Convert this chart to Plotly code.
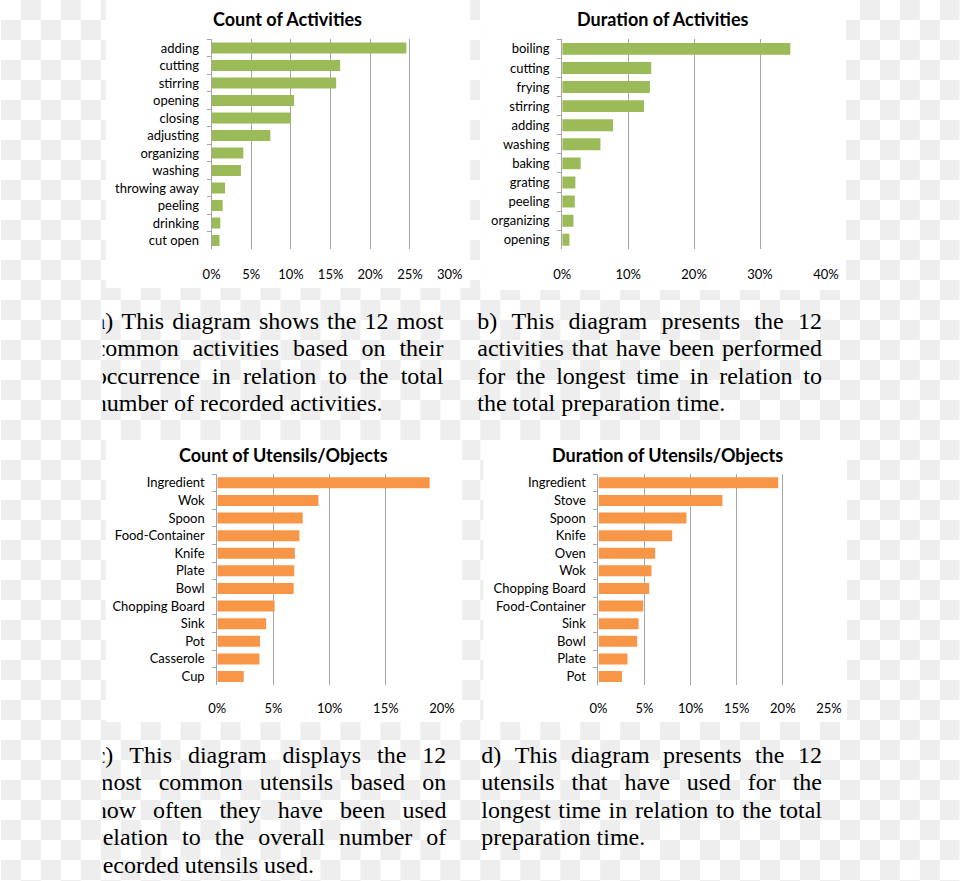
import base64
import plotly.graph_objects as go

W, H = 960, 881

# ---------------- data ----------------
act_count_labels = ["adding", "cutting", "stirring", "opening", "closing", "adjusting",
                    "organizing", "washing", "throwing away", "peeling", "drinking", "cut open"]
act_count_values = [24.55, 16.2, 15.7, 10.4, 10.0, 7.4, 4.0, 3.7, 1.7, 1.4, 1.1, 1.0]

act_dur_labels = ["boiling", "cutting", "frying", "stirring", "adding", "washing",
                  "baking", "grating", "peeling", "organizing", "opening"]
act_dur_values = [34.6, 13.5, 13.3, 12.4, 7.7, 5.8, 2.8, 2.0, 1.9, 1.7, 1.1]

ute_count_labels = ["Ingredient", "Wok", "Spoon", "Food-Container", "Knife", "Plate", "Bowl",
                    "Chopping Board", "Sink", "Pot", "Casserole", "Cup"]
ute_count_values = [18.9, 9.0, 7.6, 7.3, 6.9, 6.85, 6.8, 5.1, 4.35, 3.8, 3.75, 2.35]

ute_dur_labels = ["Ingredient", "Stove", "Spoon", "Knife", "Oven", "Wok", "Chopping Board",
                  "Food-Container", "Sink", "Bowl", "Plate", "Pot"]
ute_dur_values = [19.5, 13.45, 9.55, 8.0, 6.15, 5.75, 5.5, 4.85, 4.35, 4.2, 3.15, 2.55]

titles = ["Count of Activities", "Duration of Activities",
          "Count of Utensils/Objects", "Duration of Utensils/Objects"]

caption_a = ["a) This diagram shows the 12 most",
             "common activities based on their",
             "occurrence in relation to the total",
             "number of recorded activities."]
caption_b = ["b) This diagram presents the 12",
             "activities that have been performed",
             "for the longest time in relation to",
             "the total preparation time."]
caption_c = ["c) This diagram displays the 12",
             "most common utensils based on",
             "how often they have been used",
             "relation to the overall number of",
             "recorded utensils used."]
caption_d = ["d) This diagram presents the 12",
             "utensils that have used for the",
             "longest time in relation to the total",
             "preparation time."]

# ---------------- styles ----------------
GREEN = "#9BBB59"
ORANGE = "#F79646"
GRID = "#A6A6A6"
TICKFONT = dict(family="Lato", size=13, color="#000000")

# horizontal placement calibration (observed rendering offset/scale)
X_OFF = 8.2
X_SPAN = 939.0


def px_x(p):
    return (p - X_OFF) / X_SPAN


def px_y(p):
    return 1 - p / H


fig = go.Figure()

panels = [
    (act_count_labels, act_count_values, GREEN, "", (211, 449.3), (39.3, 249.3), 30, 5, 16),
    (act_dur_labels, act_dur_values, GREEN, "2", (562, 826), (39.3, 249.3), 40, 10, 16),
    (ute_count_labels, ute_count_values, ORANGE, "3", (216.7, 441.7), (474, 685.3), 20, 5, 14),
    (ute_dur_labels, ute_dur_values, ORANGE, "4", (598.3, 829), (474, 685.3), 25, 5, 14),
]

layout = dict(
    width=W, height=H, autosize=False,
    margin=dict(l=0, r=0, t=0, b=0, pad=0),
    paper_bgcolor="white", plot_bgcolor="rgba(0,0,0,0)",
    showlegend=False, bargap=0.375,
)

for labels, values, color, sfx, (x0, x1), (y0, y1), xmax, dt, xstand in panels:
    fig.add_trace(go.Bar(
        y=labels, x=values, orientation="h",
        marker=dict(color=color, line=dict(width=0)),
        xaxis="x" + sfx, yaxis="y" + sfx, hoverinfo="x+y",
    ))
    layout["xaxis" + sfx] = dict(
        domain=[px_x(x0), px_x(x1)], anchor="y" + sfx, range=[0, xmax],
        tick0=0, dtick=dt, ticksuffix="%", showgrid=True, gridcolor=GRID, gridwidth=1,
        zeroline=False, showline=False, ticks="", tickfont=TICKFONT,
        ticklabelstandoff=xstand, fixedrange=True,
    )
    layout["yaxis" + sfx] = dict(
        domain=[px_y(y1), px_y(y0)], anchor="x" + sfx, type="category",
        autorange="reversed", showgrid=False, showline=True, linecolor=GRID, linewidth=1,
        ticks="outside", tickson="boundaries", ticklen=4, tickcolor=GRID, tickwidth=1,
        tickfont=TICKFONT, ticklabelstandoff=9, fixedrange=True,
    )

# ---------------- captions (justified, Times metrics) ----------------
TIMES = {" ": 250, "a": 444, "b": 500, "c": 444, "d": 500, "e": 444, "f": 333, "g": 500,
         "h": 500, "i": 278, "j": 278, "k": 500, "l": 278, "m": 778, "n": 500, "o": 500,
         "p": 500, "q": 500, "r": 333, "s": 389, "t": 278, "u": 500, "v": 500, "w": 722,
         "x": 500, "y": 500, "z": 444, "T": 611, "1": 500, "2": 500, "(": 333, ")": 333,
         ".": 250, ",": 250}
CAP_FS = 24
LINE_DY = 27.4


def text_w(s, fs):
    return sum(TIMES.get(ch, 500) for ch in s) / 1000.0 * fs


def justify(lines, left, right, ytop):
    xs, ys, ts = [], [], []
    for k, line in enumerate(lines):
        y = ytop + k * LINE_DY
        words = line.split(" ")
        if k == len(lines) - 1 or len(words) == 1:
            xs.append(left)
            ys.append(y)
            ts.append(line)
            continue
        widths = [text_w(w, CAP_FS) for w in words]
        gap = (right - left - sum(widths)) / (len(words) - 1)
        x = left
        for w, wd in zip(words, widths):
            xs.append(x)
            ys.append(y)
            ts.append(w)
            x += wd + gap
    return xs, ys, ts


captions = [
    (caption_a, 94, 443, 323),
    (caption_b, 477, 822, 323),
    (caption_c, 94, 446, 757),
    (caption_d, 481, 822, 757),
]
for lines, left, right, ytop in captions:
    xs, ys, ts = justify(lines, left, right, ytop)
    fig.add_trace(go.Scatter(
        x=xs, y=ys, text=ts, mode="text", textposition="middle right",
        textfont=dict(family="Liberation Serif", size=CAP_FS, color="#000000"),
        xaxis="x5", yaxis="y5", hoverinfo="skip", cliponaxis=True,
    ))

CLIP_X = 102
X_END = X_OFF + X_SPAN
layout["xaxis5"] = dict(domain=[px_x(CLIP_X), 1], range=[CLIP_X, X_END], visible=False,
                        anchor="y5", fixedrange=True)
layout["yaxis5"] = dict(domain=[0, 1], range=[H, 0], visible=False,
                        anchor="x5", fixedrange=True)

# ---------------- panel backgrounds & titles ----------------
panel_boxes = [(105, 470, 0, 288), (480, 846, 0, 290), (105, 462, 440, 722), (483, 847, 440, 722)]
shapes = []
for (a, b, c, d) in panel_boxes:
    shapes.append(dict(type="rect", xref="paper", yref="paper",
                       x0=px_x(a), x1=px_x(b), y0=px_y(d), y1=px_y(c),
                       fillcolor="white", line=dict(width=0), layer="below"))
layout["shapes"] = shapes

title_pos = [(287, 19), (663, 19), (283, 455), (667, 455)]
annotations = []
for t, (tx, ty) in zip(titles, title_pos):
    annotations.append(dict(text="<b>" + t + "</b>", x=px_x(tx), y=px_y(ty),
                            xref="paper", yref="paper", xanchor="center", yanchor="middle",
                            showarrow=False, font=dict(family="Lato", size=18, color="#000000")))
layout["annotations"] = annotations

# checkerboard background (transparency pattern)
svg = (f'<svg xmlns="http://www.w3.org/2000/svg" width="{W}" height="{H}" viewBox="0 0 {W} {H}">'
       '<defs><pattern id="p" width="40" height="40" patternUnits="userSpaceOnUse">'
       '<rect width="40" height="40" fill="#ffffff"/>'
       '<rect x="20" y="0" width="20" height="20" fill="#eeeeee"/>'
       '<rect x="0" y="20" width="20" height="20" fill="#eeeeee"/>'
       '</pattern></defs>'
       f'<rect width="{W}" height="{H}" fill="url(#p)"/></svg>')
src = "data:image/svg+xml;base64," + base64.b64encode(svg.encode()).decode()
layout["images"] = [dict(source=src, xref="paper", yref="paper", x=px_x(0), y=1,
                         sizex=px_x(W) - px_x(0), sizey=1,
                         xanchor="left", yanchor="top", sizing="stretch", layer="below")]

fig.update_layout(**layout)

fig.write_html(
    "out.html", config=dict(displayModeBar=False),
    post_script=("document.body.style.margin='0';"
                 "document.body.style.overflow='hidden';"
                 "document.documentElement.style.overflow='hidden';"),
)
